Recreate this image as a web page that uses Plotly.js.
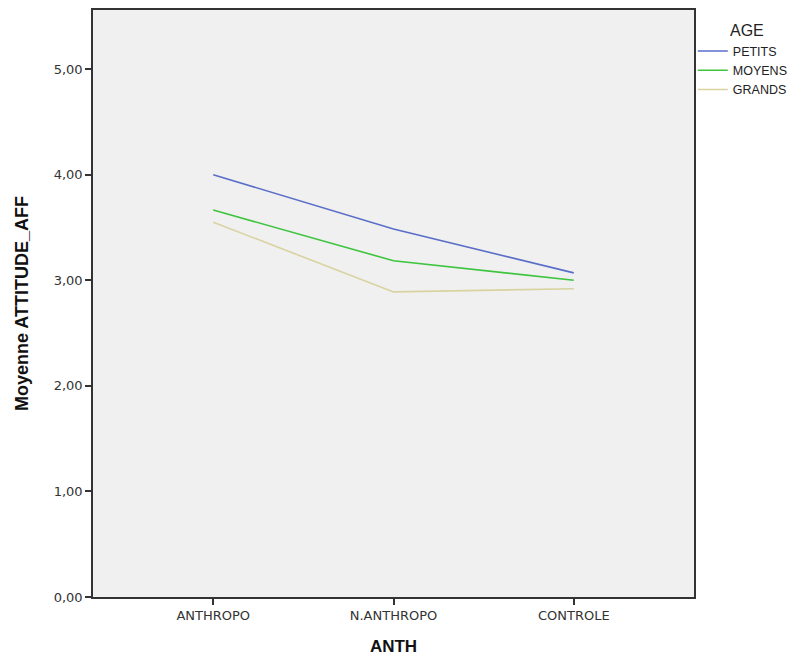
<!DOCTYPE html>
<html><head><meta charset="utf-8">
<script src="https://cdn.plot.ly/plotly-3.0.1.min.js"></script>
<style>body{margin:0;background:#fff}</style>
</head><body>
<div id="chart" style="width:803px;height:657px"></div>
<script>
const categories = ["ANTHROPO", "N.ANTHROPO", "CONTROLE"];
const seriesNames = ["PETITS", "MOYENS", "GRANDS"];
const petits = [4.00, 3.485, 3.07];
const moyens = [3.665, 3.185, 3.00];
const grands = [3.55, 2.89, 2.92];
const yTicks = [0, 1, 2, 3, 4, 5];
const yTickText = ["0,00", "1,00", "2,00", "3,00", "4,00", "5,00"];
const legendTitle = "AGE";

const colors = ["#5a6ec8", "#3ec43e", "#d8d3a0"];
const data = [petits, moyens, grands].map((vals, i) => ({
  type: "scatter", mode: "lines", name: seriesNames[i],
  x: [0, 1, 2], y: vals,
  line: {color: colors[i], width: 1.6}
}));

const layout = {
  width: 803, height: 657,
  margin: {l: 93, r: 105, t: 10, b: 60},
  paper_bgcolor: "#ffffff",
  plot_bgcolor: "#f0f0f0",
  font: {family: "DejaVu Sans, sans-serif", color: "#333"},
  showlegend: true,
  legend: {
    x: 0.998, xanchor: "left", y: 0.955, yanchor: "top",
    font: {size: 12.5, color: "#222", family: "Liberation Sans, Arial, sans-serif"},
    bgcolor: "rgba(0,0,0,0)",
    tracegroupgap: 0, itemwidth: 30
  },
  annotations: [{
    text: legendTitle, xref: "paper", yref: "paper",
    x: 1.057, y: 1.0, xanchor: "left", yanchor: "top", yshift: -10,
    showarrow: false, font: {size: 16, color: "#222", family: "Liberation Sans, Arial, sans-serif"}
  }],
  xaxis: {
    range: [-0.667, 2.667],
    tickvals: [0, 1, 2], ticktext: categories,
    ticks: "outside", ticklen: 6, tickcolor: "#333", tickwidth: 1.5,
    showline: true, linecolor: "#333", linewidth: 1.5, mirror: true,
    showgrid: false, zeroline: false,
    tickfont: {size: 13, color: "#333"},
    title: {text: "<b>ANTH</b>", font: {size: 17, color: "#111", family: "Liberation Sans, Arial, sans-serif"}, standoff: 18}
  },
  yaxis: {
    range: [0, 5.56],
    tickvals: yTicks, ticktext: yTickText,
    ticks: "outside", ticklen: 6, tickcolor: "#333", tickwidth: 1.5,
    showline: true, linecolor: "#333", linewidth: 1.5, mirror: true,
    showgrid: false, zeroline: false,
    tickfont: {size: 13, color: "#333"},
    title: {text: "<b>Moyenne ATTITUDE_AFF</b>", font: {size: 18, color: "#111", family: "Liberation Sans, Arial, sans-serif"}, standoff: 20}
  }
};
Plotly.newPlot("chart", data, layout, {displayModeBar: false});
</script>
</body></html>
